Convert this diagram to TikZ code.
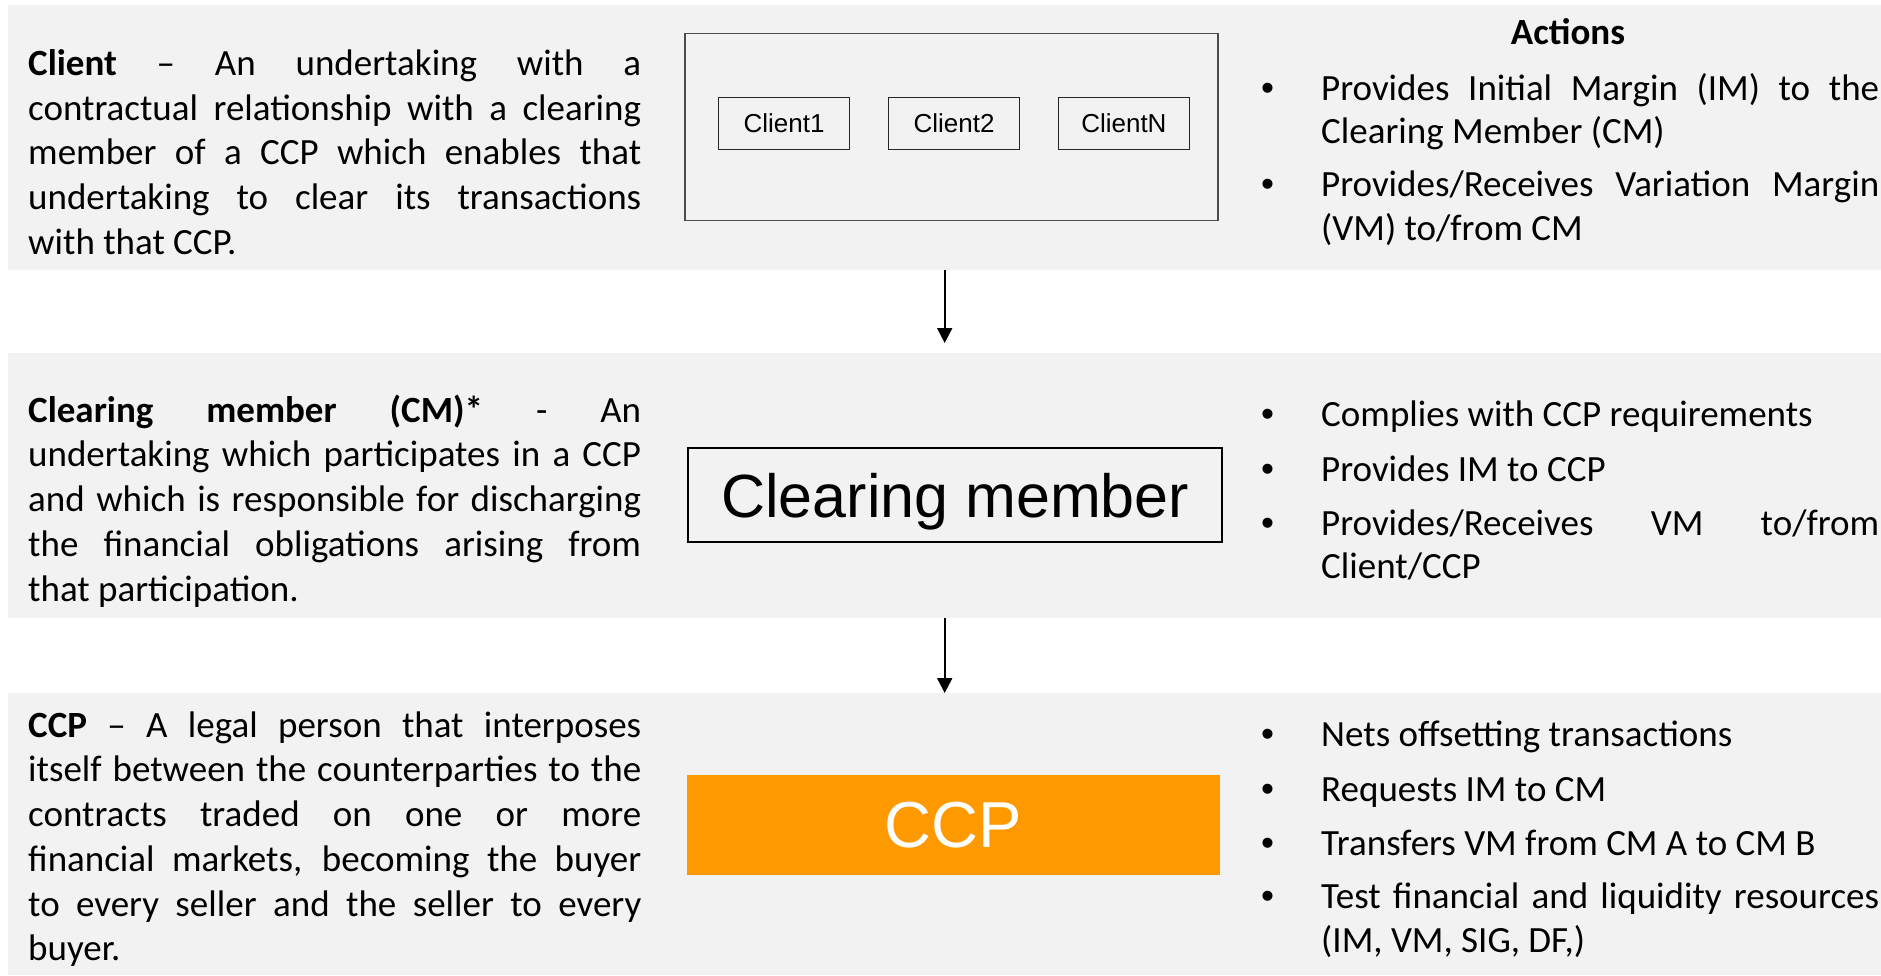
\documentclass[tikz,border=0pt]{standalone}
\usepackage{fontspec}
\setmainfont{Carlito}
\newfontfamily\arialf{Liberation Sans}
\usetikzlibrary{arrows.meta}
\definecolor{bandgray}{HTML}{F2F2F2}
\definecolor{ccporange}{HTML}{FF9900}
\setlength\parindent{0pt}
\tolerance=10000
\hbadness=10000
\newcommand\topst{\rule{0pt}{30pt}}
\newcommand\bul{\leavevmode\llap{\makebox[60pt][l]{\arialf •}}}
\begin{document}
\begin{tikzpicture}[x=1pt,y=-1pt,
  band/.style={fill=bandgray, draw=none, inner sep=0, anchor=north west, minimum width=1873pt},
  lefttext/.style={inner sep=0, anchor=north west, text width=613pt, align=justify, font=\fontsize{37}{44.75}\selectfont},
  righttext/.style={inner sep=0, anchor=north west, text width=558pt, align=justify, font=\fontsize{37}{43.3}\selectfont},
  clientbox/.style={draw=black!85, line width=1.6pt, minimum width=131pt, minimum height=52pt, inner sep=0, font=\arialf\fontsize{26}{30}\selectfont},
  arr/.style={line width=2pt, -{Triangle[width=15pt,length=15pt]}},
]
\useasboundingbox (0,0) rectangle (1881,975);
\fill[white] (0,0) rectangle (1881,975);
% bands
\node[band, minimum height=265pt] (b1) at (8,5) {};
\node[band, minimum height=264.5pt] (b2) at (8,353) {};
\node[band, minimum height=282pt] (b3) at (8,693) {};
% left definitions
\node[lefttext] (t1) at (28,45.1) {\topst\textbf{Client} – An undertaking with a\linebreak contractual relationship with a clearing\linebreak member of a CCP which enables that\linebreak undertaking to clear its transactions\linebreak with that CCP.};
\node[lefttext] (t2) at (28,391.8) {\topst\textbf{Clearing member (CM)*} - An\linebreak undertaking which participates in a CCP\linebreak and which is responsible for discharging\linebreak the financial obligations arising from\linebreak that participation.};
\node[lefttext] (t3) at (28,706.8) {\topst\textbf{CCP} – A legal person that interposes\linebreak itself between the counterparties to the\linebreak contracts traded on one or more\linebreak financial markets, becoming the buyer\linebreak to every seller and the seller to every\linebreak buyer.};
% middle boxes
\node[draw=black!70, line width=1.3pt, minimum width=533pt, minimum height=187pt, inner sep=0] (clients) at (951.5,126.8) {};
\node[clientbox] (c1) at (784,123.3) {Client1};
\node[clientbox] (c2) at (954,123.3) {Client2};
\node[clientbox] (cn) at (1123.9,123.3) {ClientN};
\node[draw=black, line width=2pt, minimum width=533.7pt, minimum height=94pt, inner sep=0, text depth=0pt, font=\arialf\fontsize{61}{70}\selectfont] (cm) at (955.2,495.3) {Clearing member};
\node[fill=ccporange, draw=none, minimum width=533.2pt, minimum height=100pt, inner sep=0, text depth=0pt, text=white, font=\arialf\fontsize{65}{75}\selectfont] (ccp) at (953.6,825) {CCP};
% arrows
\draw[arr, shorten >=10pt] (b1.south) -- (b2.north);
\draw[arr] (b2.south) -- (b3.north);
% actions
\node[inner sep=0, anchor=base, font=\bfseries\fontsize{37}{44}\selectfont] (act) at (1568,44.5) {Actions};
\node[righttext] (a1) at (1321,69.8) {\bul\topst Provides Initial Margin (IM) to the\linebreak Clearing Member (CM)};
\node[righttext] (a2) at (1321,166.5) {\bul\topst Provides/Receives Variation Margin\linebreak (VM) to/from CM};
\node[righttext] (m1) at (1321,396.5) {\bul\topst Complies with CCP requirements};
\node[righttext] (m2) at (1321,450.8) {\bul\topst Provides IM to CCP};
\node[righttext] (m3) at (1321,505.2) {\bul\topst Provides/Receives VM to/from\linebreak Client/CCP};
\node[righttext] (p1) at (1321,716.5) {\bul\topst Nets offsetting transactions};
\node[righttext] (p2) at (1321,770.8) {\bul\topst Requests IM to CM};
\node[righttext] (p3) at (1321,825.2) {\bul\topst Transfers VM from CM A to CM B};
\node[righttext] (p4) at (1321,878.5) {\bul\topst Test financial and liquidity resources\linebreak (IM, VM, SIG, DF,)};
\end{tikzpicture}
\end{document}
